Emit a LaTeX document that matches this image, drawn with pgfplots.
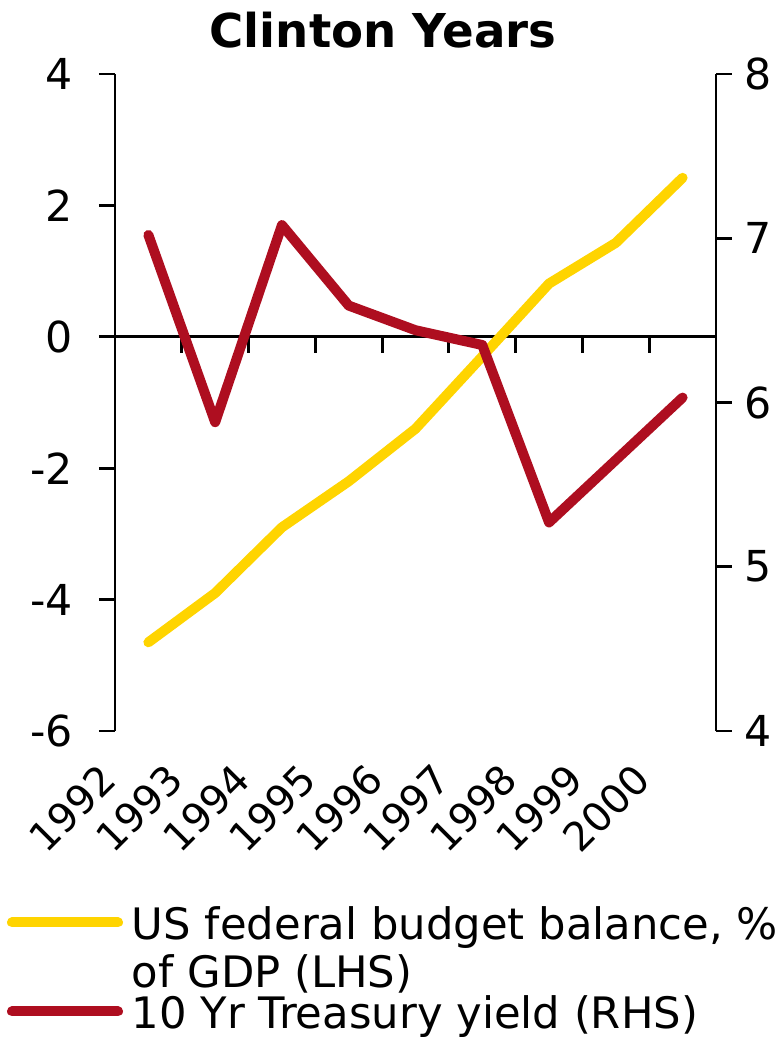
\documentclass[border=0pt]{standalone}
\usepackage{fontspec}
\setmainfont{DejaVu Sans}
\usepackage{pgfplots}
\usepackage{pgfplotstable}
\pgfplotsset{compat=1.18}
\definecolor{budgetyellow}{RGB}{255,212,0}
\definecolor{yieldred}{RGB}{174,14,32}

% x: category index (0 = 1992), bal: budget balance % of GDP, yld: 10y yield
\pgfplotstableread{
x year bal yld
0 1992 -4.65 7.02
1 1993 -3.90 5.88
2 1994 -2.90 7.08
3 1995 -2.20 6.59
4 1996 -1.40 6.44
5 1997 -0.30 6.35
6 1998  0.81 5.27
7 1999  1.43 5.65
8 2000  2.42 6.03
}\clintondata

\pgfplotsset{
  clintonbase/.style={
    at={(86.25pt,233.25pt)}, anchor=south west,
    scale only axis, width=450.75pt, height=492.75pt,
    xmin=-0.5, xmax=8.5,
    axis line style={line width=2.2pt, -},
    tick style={line width=2.2pt, black},
    major tick length=12pt, tick align=outside,
    ticklabel style={font=\fontsize{32}{38}\selectfont},
    /pgf/number format/assume math mode=true,
    clip=false,
  },
}

\begin{document}
\begin{tikzpicture}
\useasboundingbox (0,0) rectangle (583.5pt,781.5pt);

\begin{axis}[
  clintonbase,
  ymin=-6, ymax=4,
  axis y line*=left, axis x line*=middle,
  xtick={0.5,1.5,...,7.5}, xticklabels={},
  ytick={-6,-4,...,4},
  hide obscured y ticks=false,
  yticklabel style={inner sep=0pt, anchor=east, xshift=-19.5pt},
  title={Clinton Years},
  title style={at={(0.446,1)}, anchor=base, yshift=13.5pt,
    font=\fontsize{35}{40}\selectfont\bfseries},
]
\addplot[budgetyellow, line width=7.5pt, line cap=round, line join=round]
  table[x=x, y=bal]{\clintondata};
\end{axis}

\begin{axis}[
  clintonbase,
  ymin=4, ymax=8,
  axis y line*=right, axis x line*=bottom,
  x axis line style={draw=none},
  xtick={0,...,8},
  xticklabels={1992,1993,1994,1995,1996,1997,1998,1999,2000},
  xtick style={draw=none},
  xticklabel style={xshift=-30pt, yshift=-18.5pt, rotate=45, anchor=east,
    inner sep=0pt, font=\fontsize{30}{36}\selectfont},
  ytick={4,5,...,8},
  yticklabel style={inner sep=0pt, anchor=west, xshift=9pt},
  legend image code/.code={\draw[#1, line width=7.5pt, line cap=round] (3.75pt,5.5pt) -- (83.25pt,5.5pt);},
  legend style={at={(-0.1797,-0.2714)}, anchor=north west, draw=none, fill=none,
    inner sep=0pt, outer sep=0pt, font=\fontsize{32.5}{38}\selectfont,
    nodes={inner sep=0pt, text height=23pt, text depth=7.75pt},
    column sep=6.75pt, row sep=0pt},
  legend cell align=left,
]
\addlegendimage{budgetyellow}
\addlegendentry{US federal budget balance, \%}
\addlegendimage{empty legend}
\addlegendentry[text height=28.25pt]{of GDP (LHS)}
\addplot[yieldred, line width=7.5pt, line cap=round, line join=round]
  table[x=x, y=yld]{\clintondata};
\addlegendentry{10 Yr Treasury yield (RHS)}
\end{axis}
\end{tikzpicture}
\end{document}
